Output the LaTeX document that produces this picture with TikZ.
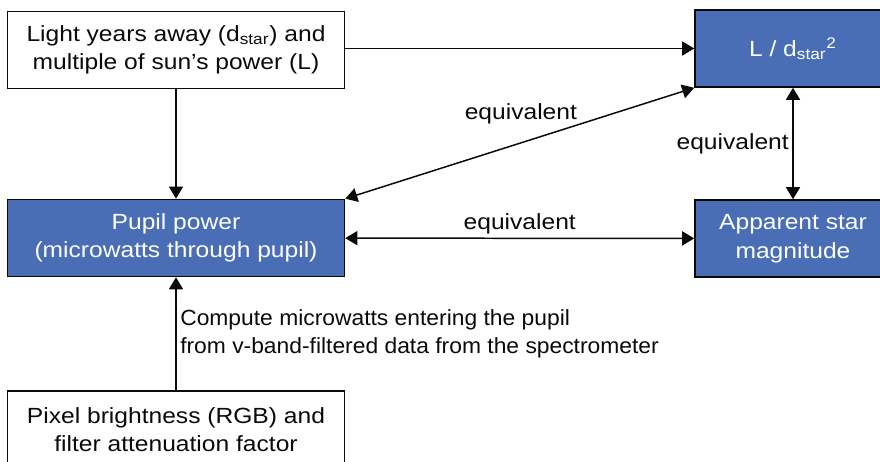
\documentclass[tikz,border=0pt]{standalone}
\usepackage{fontspec}
\setmainfont[FakeStretch=1.12]{Liberation Sans}
\newfontfamily\notesans[FakeStretch=1.04]{Liberation Sans}
\usepackage{xcolor}
\definecolor{Ink}{HTML}{0A0A0A}
\definecolor{StarBlue}{HTML}{4A6EB5}
\usetikzlibrary{arrows.meta}

\begin{document}
\begin{tikzpicture}[x=0.02cm, y=-0.02cm,
  >={Triangle[length=0.24cm, width=0.28cm]},
  font=\fontsize{12.5}{16.2}\selectfont,
  plainbox/.style={rectangle, draw=Ink, line width=0.9pt, fill=white, text=Ink,
                   minimum width=6.74cm, minimum height=1.54cm, align=center},
  qtybox/.style={plainbox, fill=StarBlue, text=white},
  narrow/.style={minimum width=3.92cm},
  arr/.style={->, line width=0.85pt, color=Ink},
  dbl/.style={<->, line width=0.85pt, color=Ink},
  lbl/.style={text=Ink, inner sep=2pt}
]
\useasboundingbox (0,0) rectangle (880,462);
\clip (0,0) rectangle (880,462);

%% ---- Left column ----
\node[plainbox] (light) at (176,50)
  {Light years away (d\textsubscript{star}) and\\multiple of sun's power (L)};
\node[qtybox] (pupil) at (176,238) {Pupil power\\(microwatts through pupil)};
\node[plainbox] (pixel) at (176,429.5) {Pixel brightness (RGB) and\\filter attenuation factor};

%% ---- Right column ----
\node[qtybox, narrow] (lds) at (793,48.5) {L / d\textsubscript{star}\textsuperscript{2}};
\node[qtybox, narrow] (appmag) at (793,238.5) {Apparent star\\magnitude};

%% ---- Arrows ----
\draw[arr] (light.east |- lds.west) -- (lds.west);
\draw[arr] (light) -- (pupil);
\draw[dbl] (pupil.north east) -- node[lbl, pos=0.666, anchor=south east, inner sep=0pt]{equivalent} (lds.south west);
\draw[dbl] (lds) -- node[lbl, left]{equivalent} (appmag);
\draw[dbl] (pupil) -- node[lbl, above]{equivalent} (appmag);
\draw[arr] (pixel) -- node[lbl, pos=0.5, right, align=left, font=\notesans\fontsize{12.5}{16.4}\selectfont]
  {Compute microwatts entering the pupil\\from v-band-filtered data from the spectrometer} (pupil);

\end{tikzpicture}
\end{document}
